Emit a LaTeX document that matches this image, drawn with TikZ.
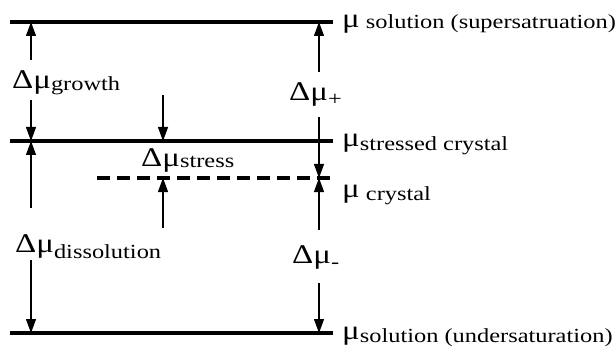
\documentclass[tikz,border=0pt]{standalone}
\usepackage{fontspec}
\setmainfont{Liberation Serif}[FakeStretch=1.22]
\usetikzlibrary{arrows.meta}
\newcommand{\bigf}{\fontsize{27}{29}\selectfont}
\newcommand{\subf}{\fontsize{20}{22}\selectfont}
% delta mu with a lowered index
\newcommand{\dmu}[2][2pt]{{\bigf Δμ}\raisebox{-#1}{\subf #2}}
\newcommand{\mulab}[2][2pt]{{\bigf μ}\raisebox{-#1}{\subf #2}}
\tikzset{
  level/.style={line width=3.2pt},
  metastable/.style={level, dash pattern=on 13pt off 7pt},
  dmuarrow/.style={-{Triangle[length=14pt,width=10pt]}, line width=1.2pt},
  lbl/.style={inner sep=0pt, anchor=base west},
}

\begin{document}
\begin{tikzpicture}[x=1pt, y=-1pt]
    \useasboundingbox (0,0) rectangle (616,350);
    % energy levels
    \coordinate (L1) at (10,22);  \coordinate (R1) at (333,22);
    \coordinate (L2) at (10,141); \coordinate (R2) at (333,141);
    \coordinate (L3) at (97,178); \coordinate (R3) at (335,178);
    \coordinate (L4) at (10,333); \coordinate (R4) at (333,333);
    \draw[level] (L1) -- (R1);
    \draw[level] (L2) -- (R2);
    \draw[metastable] (L3) -- (R3);
    \draw[level] (L4) -- (R4);
    % labels
    \node[lbl] (growth) at (12,89) {\dmu{growth}};
    \node[lbl] (dissol) at (15,252) {\dmu[6pt]{dissolution}};
    \node[lbl] (stress) at (141,167) {\dmu[1pt]{stress}};
    \node[lbl] (plus) at (289,101) {\dmu[5pt]{+}};
    \node[lbl] (minus) at (292,263) {\dmu[5pt]{-}};
    \node[lbl] (supsat) at (342,28) {\mulab[1pt]{\ solution (supersatruation)}};
    \node[lbl] (stcry) at (342,147) {\mulab[3pt]{stressed crystal}};
    \node[lbl] (cry) at (342,197) {\mulab[3pt]{\ crystal}};
    \node[lbl] (undsat) at (342,339) {\mulab[3pt]{solution (undersaturation)}};
    % arrow ends
    \coordinate (a1) at (31,22);  \coordinate (a2) at (31,141); \coordinate (a3) at (31,333);
    \coordinate (g1) at (31,60);  \coordinate (g2) at (31,100);
    \coordinate (d1) at (31,208); \coordinate (d2) at (31,260);
    \coordinate (b1) at (163,141); \coordinate (b2) at (163,178);
    \coordinate (s1) at (163,95); \coordinate (s2) at (163,228);
    \coordinate (c1) at (319,22); \coordinate (c2) at (319,178); \coordinate (c3) at (319,333);
    \coordinate (p1) at (319,72); \coordinate (p2) at (319,117);
    \coordinate (m1) at (319,230); \coordinate (m2) at (319,283);
    \draw[dmuarrow] (g1) -- (a1); \draw[dmuarrow] (g2) -- (a2);
    \draw[dmuarrow] (d1) -- (a2); \draw[dmuarrow] (d2) -- (a3);
    \draw[dmuarrow] (s1) -- (b1); \draw[dmuarrow] (s2) -- (b2);
    \draw[dmuarrow] (p1) -- (c1); \draw[dmuarrow] (p2) -- (c2);
    \draw[dmuarrow] (m1) -- (c2); \draw[dmuarrow] (m2) -- (c3);
\end{tikzpicture}
\end{document}
